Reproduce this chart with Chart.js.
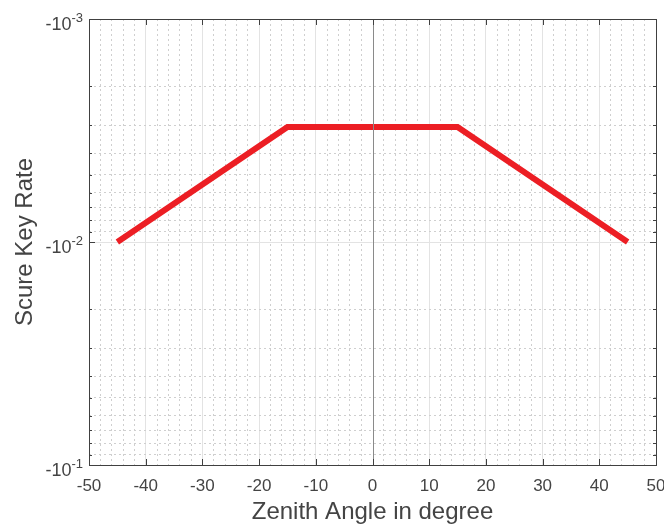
<!DOCTYPE html>
<html>
<head>
<meta charset="utf-8">
<script src="https://cdn.jsdelivr.net/npm/chart.js@4.4.0/dist/chart.umd.min.js"></script>
<style>
  html, body { margin: 0; padding: 0; background: #fff; }
  #wrap { width: 664px; height: 527px; }
</style>
</head>
<body>
<div id="wrap"><canvas id="myChart"></canvas></div>
<script>
// zenith angle (deg) and secure key rate
const zenith = [-45, -15, 15, 45];
const keyRate = [-0.01, -0.00305, -0.00305, -0.01];

const xTicks = [-50, -40, -30, -20, -10, 0, 10, 20, 30, 40, 50];
const yDecades = [0.001, 0.01, 0.1];
const yTickLabels = [['-10', '-3'], ['-10', '-2'], ['-10', '-1']];

const axisColor = '#444444';
const majorGrid = '#e3e3e3';
const minorGrid = '#cfcfcf';
const fontFamily = '"Liberation Sans", Arial, sans-serif';

// minor ticks: every 2 deg on x, 2..9 per decade on y
const xMinor = [];
for (let v = -50; v <= 50; v += 2) xMinor.push(v);
const yMinor = [];
yDecades.forEach((d, i) => {
  if (i === yDecades.length - 1) { yMinor.push(d); return; }
  for (let k = 1; k < 10; k++) yMinor.push(+(d * k).toPrecision(3));
});

const isXMajor = v => xTicks.includes(v);
const isYMajor = v => yDecades.some(d => Math.abs(d - v) < d * 1e-6);

const boxPlugin = {
  id: 'box',
  afterDatasetsDraw(chart) {
    const { ctx, chartArea: a, scales: { x } } = chart;
    // zero line
    const x0 = Math.round(x.getPixelForValue(0)) + 0.5;
    ctx.save();
    ctx.strokeStyle = '#8a8a8a';
    ctx.lineWidth = 1;
    ctx.beginPath();
    ctx.moveTo(x0, a.top);
    ctx.lineTo(x0, a.bottom);
    ctx.stroke();
    ctx.restore();
  },
  afterDraw(chart) {
    const { ctx, chartArea: a, scales: { x, y } } = chart;
    ctx.save();
    ctx.strokeStyle = '#404040';
    ctx.lineWidth = 1;
    ctx.strokeRect(Math.round(a.left) + 0.5, Math.round(a.top) + 0.5,
      Math.round(a.right - a.left), Math.round(a.bottom - a.top));
    ctx.beginPath();
    xTicks.forEach(v => {
      const px = Math.round(x.getPixelForValue(v)) + 0.5;
      ctx.moveTo(px, a.top); ctx.lineTo(px, a.top + 6);
      ctx.moveTo(px, a.bottom); ctx.lineTo(px, a.bottom - 6);
    });
    yMinor.forEach(v => {
      const py = Math.round(y.getPixelForValue(v)) + 0.5;
      const len = isYMajor(v) ? 6 : 3;
      ctx.moveTo(a.left, py); ctx.lineTo(a.left + len, py);
      ctx.moveTo(a.right, py); ctx.lineTo(a.right - len, py);
    });
    ctx.stroke();

    // y tick labels with superscript exponent
    ctx.fillStyle = axisColor;
    ctx.textBaseline = 'middle';
    yDecades.forEach((d, i) => {
      const py = y.getPixelForValue(d);
      const [base, exp] = yTickLabels[i];
      ctx.font = '13px ' + fontFamily;
      const ew = ctx.measureText(exp).width;
      const right = a.left - 6;
      ctx.textAlign = 'right';
      ctx.fillText(exp, right, py - 1);
      ctx.font = '18px ' + fontFamily;
      ctx.fillText(base, right - ew, py + 6);
    });
    ctx.restore();
  }
};

const ctx = document.getElementById('myChart').getContext('2d');

const chart = new Chart(ctx, {
  type: 'line',
  data: {
    datasets: [
      {
        label: 'Scure Key Rate',
        data: zenith.map((z, i) => ({ x: z, y: Math.abs(keyRate[i]) })),
        borderColor: 'rgb(236, 30, 36)',
        borderWidth: 6,
        pointRadius: 0,
        tension: 0,
        fill: false
      }
    ]
  },
  options: {
    responsive: true,
    maintainAspectRatio: false,
    animation: false,
    layout: { padding: { top: 19, right: 8, left: 0, bottom: 0 } },
    plugins: {
      legend: { display: false },
      tooltip: { enabled: false }
    },
    scales: {
      x: {
        type: 'linear',
        min: -50,
        max: 50,
        afterBuildTicks: s => { s.ticks = xMinor.map(v => ({ value: v })); },
        afterFit: s => { s.height = 62; s.paddingLeft = 0; s.paddingRight = 0; },
        ticks: {
          autoSkip: false,
          maxRotation: 0,
          padding: 11,
          color: axisColor,
          font: { family: fontFamily, size: 17 },
          callback: v => (isXMajor(v) ? String(v) : '')
        },
        grid: {
          drawTicks: false,
          color: c => (c.tick && c.tick.value === 0 ? 'rgba(0,0,0,0)' : (isXMajor(c.tick.value) ? majorGrid : minorGrid)),
          lineWidth: 1
        },
        border: {
          display: false,
          dash: c => (c.tick && isXMajor(c.tick.value) ? [] : [2, 3])
        },
        title: {
          display: true,
          text: 'Zenith Angle in degree',
          color: axisColor,
          font: { family: fontFamily, size: 24 },
          padding: { top: 0, bottom: 0 }
        }
      },
      y: {
        type: 'logarithmic',
        reverse: true,
        min: 0.001,
        max: 0.1,
        afterBuildTicks: s => { s.ticks = yMinor.map(v => ({ value: v })); },
        afterFit: s => { s.width = 89; s.paddingTop = 0; s.paddingBottom = 0; },
        ticks: {
          display: false
        },
        grid: {
          drawTicks: false,
          color: c => (c.tick && isYMajor(c.tick.value) ? majorGrid : minorGrid),
          lineWidth: 1
        },
        border: {
          display: false,
          dash: c => (c.tick && isYMajor(c.tick.value) ? [] : [2, 3])
        },
        title: {
          display: true,
          text: 'Scure Key Rate',
          color: axisColor,
          font: { family: fontFamily, size: 24 },
          padding: { top: 11, bottom: 0 }
        }
      }
    }
  },
  plugins: [boxPlugin]
});
</script>
</body>
</html>
